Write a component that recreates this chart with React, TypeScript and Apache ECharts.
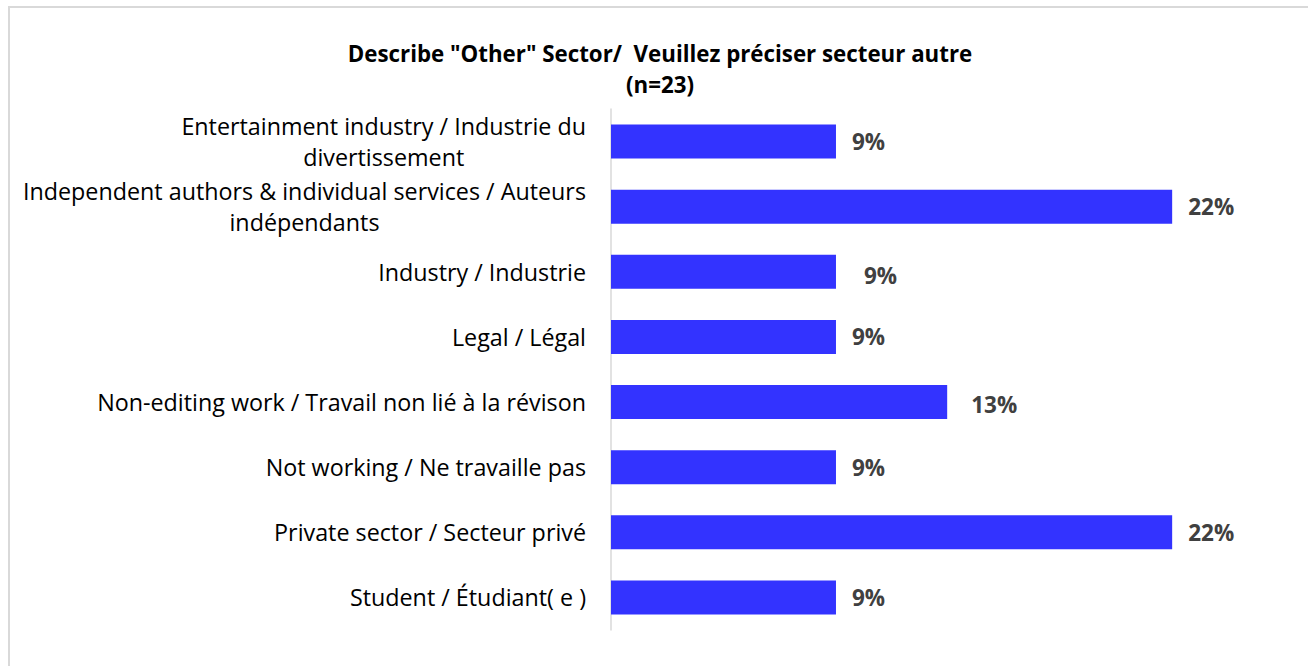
import React, { useEffect, useRef } from "react";
import * as echarts from "echarts";

const titleLines = ['Describe "Other" Sector/  Veuillez préciser secteur autre', "(n=23)"];

const categories = [
  "Entertainment industry / Industrie du\ndivertissement",
  "Independent authors & individual services / Auteurs\nindépendants",
  "Industry / Industrie",
  "Legal / Légal",
  "Non-editing work / Travail non lié à la révison",
  "Not working / Ne travaille pas",
  "Private sector / Secteur privé",
  "Student / Étudiant( e )",
];

const values = [8.7, 21.7, 8.7, 8.7, 13.0, 8.7, 21.7, 8.7];

const FONT = "'Open Sans', 'Noto Sans', sans-serif";
const CAT_SIZE = 23.3;
const labelOffsets: Record<number, [number, number]> = { 2: [12, 4], 4: [8, 2] };

export default function App() {
  const ref = useRef<HTMLDivElement>(null);
  useEffect(() => {
    if (!ref.current) return;
    const chart = echarts.init(ref.current, null, { renderer: "svg" });

    // measure lines to centre the lines of wrapped labels inside their block
    const ctx = document.createElement("canvas").getContext("2d")!;
    ctx.font = `${CAT_SIZE}px ${FONT}`;
    const rich: Record<string, any> = {};
    categories.forEach((cat, i) => {
      const lines = cat.split("\n");
      const widths = lines.map((l) => ctx.measureText(l).width);
      const W = Math.max(...widths);
      lines.forEach((_, j) => {
        const p = (W - widths[j]) / 2;
        rich[`l${i}_${j}`] = {
          fontFamily: FONT,
          fontSize: CAT_SIZE,
          color: "#000000",
          lineHeight: 31,
          padding: [0, p, 0, p],
        };
      });
    });

    chart.setOption({
      animation: false,
      backgroundColor: "#ffffff",
      title: {
        text: titleLines.join("\n"),
        left: 655,
        top: 33,
        textAlign: "center",
        textStyle: {
          fontFamily: FONT,
          fontSize: 22.3,
          fontWeight: "bold",
          color: "#000000",
          lineHeight: 31,
        },
      },
      graphic: [
        {
          type: "rect",
          shape: { x: 9, y: 7, width: 1400, height: 800 },
          style: { fill: "none", stroke: "#d9d9d9", lineWidth: 2 },
          silent: true,
        },
      ],
      grid: { left: 611, top: 109, width: 646.5, height: 521 },
      xAxis: {
        type: "value",
        min: 0,
        max: 25,
        show: false,
      },
      yAxis: {
        type: "category",
        data: categories,
        inverse: true,
        axisLine: { show: true, lineStyle: { color: "#d9d9d9", width: 1.5 } },
        axisTick: { show: false },
        splitLine: { show: false },
        axisLabel: {
          margin: 25,
          align: "right",
          fontFamily: FONT,
          fontSize: CAT_SIZE,
          color: "#000000",
          lineHeight: 31,
          formatter: (v: string, idx: number) =>
            v
              .split("\n")
              .map((l, j) => `{l${idx}_${j}|${l}}`)
              .join("\n"),
          rich,
        },
      },
      series: [
        {
          type: "bar",
          barWidth: 34,
          data: values.map((v, i) => ({
            value: v,
            label: labelOffsets[i] ? { offset: labelOffsets[i] } : undefined,
          })),
          itemStyle: { color: "#3333ff" },
          label: {
            show: true,
            position: "right",
            distance: 16,
            fontFamily: FONT,
            fontSize: 22.5,
            fontWeight: "bold",
            color: "#404040",
            formatter: (p: any) => Math.round(p.value) + "%",
          },
        },
      ],
    });
    return () => chart.dispose();
  }, []);
  return (
    <div
      ref={ref}
      style={{ position: "absolute", left: 0, top: 0, width: 1308, height: 666 }}
    />
  );
}
